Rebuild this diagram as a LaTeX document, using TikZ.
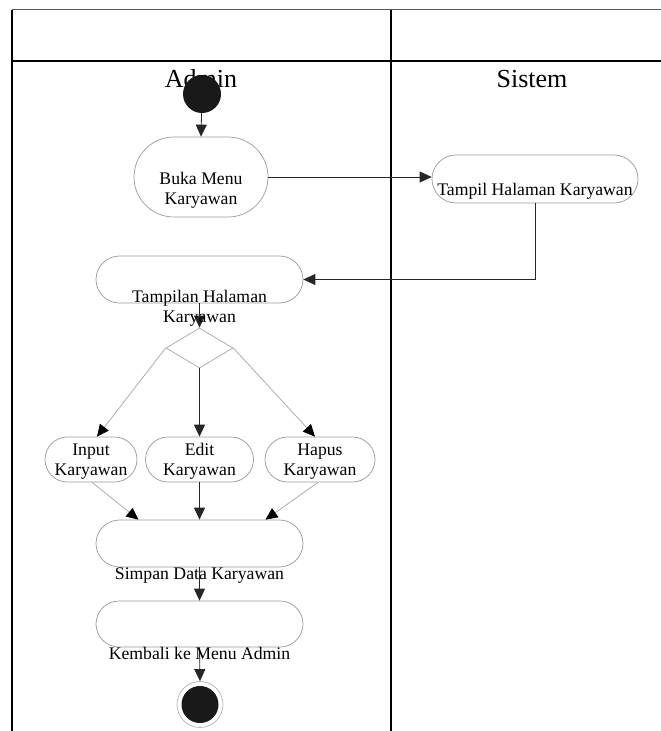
\documentclass[tikz,border=0pt]{standalone}
\usepackage{fontspec}
\setmainfont{Liberation Serif}
\usetikzlibrary{arrows.meta,shapes.geometric,calc}

\begin{document}
\begin{tikzpicture}[x=1pt,y=-1pt,
  act/.style={draw=gray!80, line width=0.7pt, fill=white, inner sep=0pt},
  txt/.style={font=\fontsize{17.7}{20}\selectfont, align=center, inner sep=0pt, anchor=base},
  head/.style={font=\fontsize{26}{28}\selectfont, inner sep=0pt, anchor=base},
  flow/.style={draw=black!85, line width=0.8pt, -{Triangle[length=12pt,width=11pt]}},
  branch/.style={draw=gray!65, line width=0.8pt, -{Triangle[length=12pt,width=11pt,color=black]}},
  lane/.style={draw=black, line width=1.2pt}
]
\useasboundingbox (0,0) rectangle (661,731);

% swimlane frame
\draw[draw=gray!70!black, line width=1.8pt] (12,9.5) -- (661,9.5);
\draw[lane] (12,61) -- (661,61);
\draw[lane] (12,9.5) -- (12,731);
\draw[lane] (391,9.5) -- (391,731);
\node[head] (hadmin) at (201,87) {Admin};
\node[head] (hsistem) at (532,87) {Sistem};

% start
\node[circle, fill=black!90, minimum size=38pt, inner sep=0pt] (start) at (202,94) {};

% activities (the base anchor of a two-line label is its last line)
\node[act, minimum width=134pt, minimum height=80pt, rounded corners=40pt] (buka) at (201,177) {};
\node[txt] (tbuka) at (201,204) {Buka Menu\\Karyawan};

\node[act, minimum width=206pt, minimum height=48pt, rounded corners=24pt] (tampil) at (535,179) {};
\node[txt] (ttampil) at (535,195) {Tampil Halaman Karyawan};

\node[act, minimum width=207pt, minimum height=47pt, rounded corners=23.5pt] (tampilan) at (199.5,279.5) {};

\node[diamond, draw=gray!70, line width=0.7pt, minimum width=67pt, minimum height=40pt, inner sep=0pt, shape aspect=1.675] (dia) at (199.5,348) {};

\node[act, minimum width=92pt, minimum height=45pt, rounded corners=22.5pt] (input) at (91,459.5) {};
\node[txt] (tinput) at (91,475) {Input\\Karyawan};
\node[act, minimum width=108pt, minimum height=45pt, rounded corners=22.5pt] (edit) at (199.5,459.5) {};
\node[txt] (tedit) at (199.5,475) {Edit\\Karyawan};
\node[act, minimum width=110pt, minimum height=45pt, rounded corners=22.5pt] (hapus) at (320,459.5) {};
\node[txt] (thapus) at (320,475) {Hapus\\Karyawan};

\node[act, minimum width=207pt, minimum height=47pt, rounded corners=23.5pt] (simpan) at (199.5,543.5) {};
\node[act, minimum width=207pt, minimum height=46pt, rounded corners=23pt] (kembali) at (199.5,624) {};

% end
\node[circle, draw=gray!60, line width=0.7pt, minimum size=46pt, inner sep=0pt] (stop) at (200,704.5) {};
\node[circle, fill=black!90, minimum size=37pt, inner sep=0pt] (stopdot) at (200,704.5) {};

% flows
\draw[flow] (start) -- (buka.north);
\draw[flow] (buka.east) -- (buka.east -| tampil.west);
\draw[flow] (tampil.south) |- (tampilan.east);
\draw[flow] (tampilan.south) -- (dia.north);
\draw[branch] (dia.west) -- ([xshift=6pt]input.north);
\draw[flow] (dia.south) -- (edit.north);
\draw[branch] (dia.east) -- ([xshift=-5pt]hapus.north);
\draw[branch] ([xshift=1pt]input.south) -- ([xshift=-61pt]simpan.north);
\draw[flow] (edit.south) -- (simpan.north);
\draw[branch] ([xshift=-2pt]hapus.south) -- ([xshift=66pt]simpan.north);
\draw[flow] (simpan.south) -- (kembali.north);
\draw[flow] (kembali.south) -- (stop.north);

% labels set below their boxes, drawn over the flows
\node[txt] (ttampilan) at (199.5,322) {Tampilan Halaman\\Karyawan};
\node[txt] (tsimpan) at (199.5,579) {Simpan Data Karyawan};
\node[txt] (tkembali) at (199.5,659) {Kembali ke Menu Admin};
\end{tikzpicture}
\end{document}
